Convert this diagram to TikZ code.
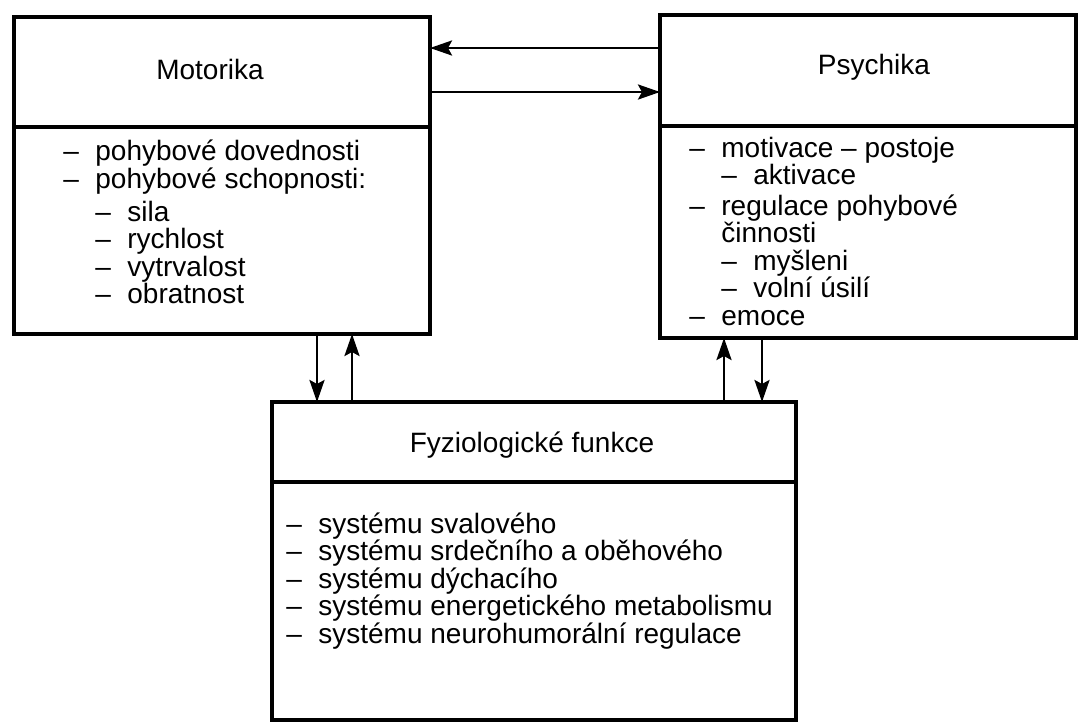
\documentclass[tikz,border=0pt]{standalone}
\usepackage{fontspec}
\setmainfont{Liberation Sans}
\usetikzlibrary{arrows.meta}
\newcommand\dsh{\strut\makebox[16pt][l]{\textendash}}
\newcommand\ind{\hspace*{16pt}}
\newcommand\listfont{\fontsize{14}{13.75}\selectfont\lineskiplimit=-100pt\relax}
\begin{document}
\begin{tikzpicture}[x=0.5pt,y=-0.5pt,
		box/.style={draw,line width=1.9pt,inner sep=0pt,outer sep=0pt,anchor=north west},
		title/.style={anchor=base,font=\fontsize{14}{16}\selectfont},
		list/.style={anchor=north west,inner sep=0pt,align=left,font=\listfont},
		conn/.style={line width=1.4pt,-{Stealth[length=11pt,width=7.5pt,inset=2pt]}}]
	\useasboundingbox (0,0) rectangle (1081,724);
	\node[box,minimum width=208pt,minimum height=158.5pt] (mot) at (14,17) {};
	\node[box,minimum width=208pt,minimum height=161.5pt] (psy) at (660,15) {};
	\node[box,minimum width=262pt,minimum height=159pt] (fyz) at (272,402) {};
	\draw[line width=1.9pt] (mot.west |- 0,127) -- (mot.east |- 0,127);
	\draw[line width=1.9pt] (psy.west |- 0,126) -- (psy.east |- 0,126);
	\draw[line width=1.9pt] (fyz.west |- 0,482) -- (fyz.east |- 0,482);
	\node[title] (motT) at (210,79) {Motorika};
	\node[title] (psyT) at (874,74) {Psychika};
	\node[title] (fyzT) at (532,452) {Fyziologické funkce};
	\node[list] (motL) at (63,139.5) {\dsh pohybové dovednosti\\
		\dsh pohybové schopnosti:\\[2.75pt]
		\ind\dsh sila\\
		\ind\dsh rychlost\\
		\ind\dsh vytrvalost\\
		\ind\dsh obratnost};
	\node[list] (psyL) at (689,136.5) {\dsh motivace \textendash{} postoje\\
		\ind\dsh aktivace\\[1.5pt]
		\dsh regulace pohybové\\
		\ind\strut činnosti\\
		\ind\dsh myšleni\\
		\ind\dsh volní úsilí\\
		\dsh emoce};
	\node[list] (fyzL) at (286,512) {\dsh systému svalového\\
		\dsh systému srdečního a oběhového\\
		\dsh systému dýchacího\\
		\dsh systému energetického metabolismu\\
		\dsh systému neurohumorální regulace};
	\draw[conn] (psy.west |- 0,48) -- (mot.east |- 0,48);
	\draw[conn] (mot.east |- 0,92) -- (psy.west |- 0,92);
	\draw[conn] (mot.south -| 317,0) -- (fyz.north -| 317,0);
	\draw[conn] (fyz.north -| 352,0) -- (mot.south -| 352,0);
	\draw[conn] (fyz.north -| 724,0) -- (psy.south -| 724,0);
	\draw[conn] (psy.south -| 762,0) -- (fyz.north -| 762,0);
\end{tikzpicture}
\end{document}
